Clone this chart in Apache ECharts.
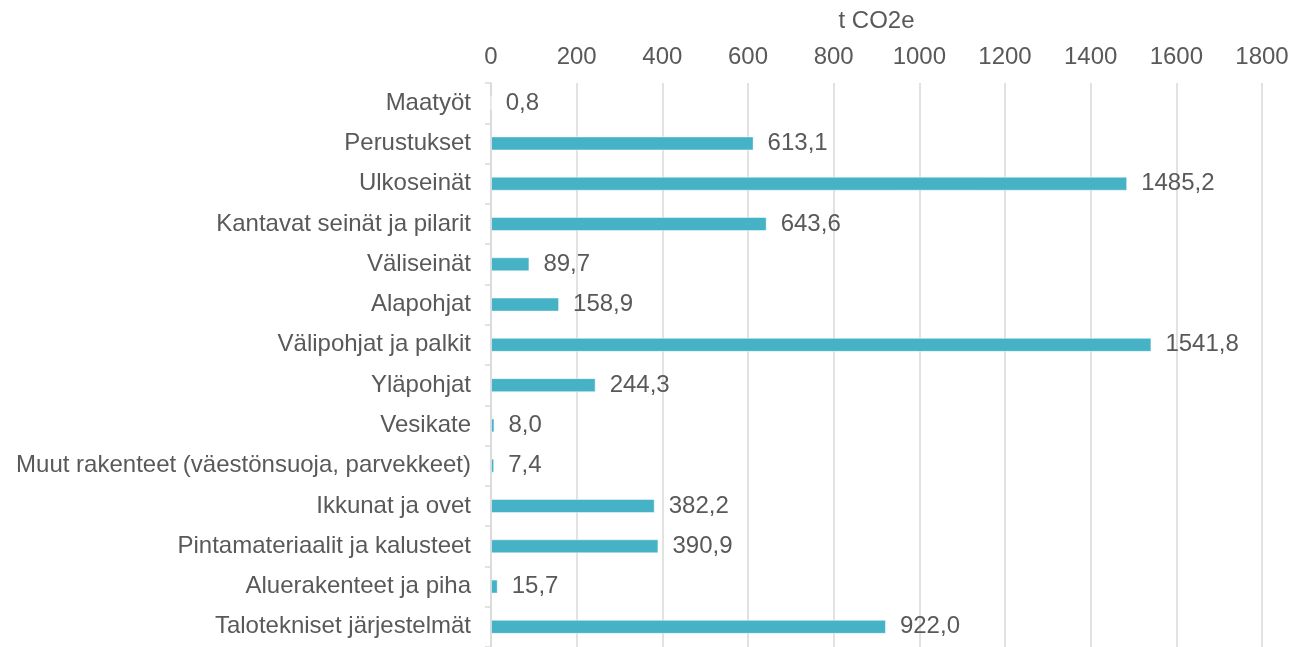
<!DOCTYPE html>
<html>
<head>
<meta charset="utf-8">
<script src="https://cdn.jsdelivr.net/npm/echarts@6/dist/echarts.min.js"></script>
<style>
  html, body { margin: 0; padding: 0; background: #ffffff; }
  #chart { width: 1304px; height: 647px; }
</style>
</head>
<body>
<div id="chart"></div>
<script>
// Carbon footprint by building element (t CO2e)
const categories = [
  'Maatyöt',
  'Perustukset',
  'Ulkoseinät',
  'Kantavat seinät ja pilarit',
  'Väliseinät',
  'Alapohjat',
  'Välipohjat ja palkit',
  'Yläpohjat',
  'Vesikate',
  'Muut rakenteet (väestönsuoja, parvekkeet)',
  'Ikkunat ja ovet',
  'Pintamateriaalit ja kalusteet',
  'Aluerakenteet ja piha',
  'Talotekniset järjestelmät'
];
const emissions = [0.8, 613.1, 1485.2, 643.6, 89.7, 158.9, 1541.8, 244.3, 8.0, 7.4, 382.2, 390.9, 15.7, 922.0];
const axisMin = 0;
const axisMax = 1800;
const axisStep = 200;
const axisTitle = 't CO2e';

const textColor = '#595959';
const gridColor = '#d9d9d9';
const barColor = '#45b2c6';
const fontFamily = 'Liberation Sans';
const fontSize = 24;

const fmt = v => v.toFixed(1).replace('.', ',');

const chart = echarts.init(document.getElementById('chart'));
chart.setOption({
  animation: false,
  textStyle: { fontFamily: fontFamily, color: textColor },
  grid: { left: 491, top: 83, width: 771, height: 567, containLabel: false },
  xAxis: {
    type: 'value',
    position: 'top',
    min: axisMin,
    max: axisMax,
    interval: axisStep,
    name: axisTitle,
    nameLocation: 'middle',
    nameGap: 50,
    nameTextStyle: { fontSize: fontSize, color: textColor, fontFamily: fontFamily },
    axisLine: { show: false },
    axisTick: { show: false },
    axisLabel: {
      fontSize: fontSize, color: textColor, fontFamily: fontFamily, margin: 14,
      formatter: v => String(v)
    },
    splitLine: { show: true, lineStyle: { color: gridColor, width: 1.5 } }
  },
  yAxis: {
    type: 'category',
    inverse: true,
    data: categories,
    axisLine: { show: true, lineStyle: { color: gridColor, width: 1.5 } },
    axisTick: { show: true, length: 6, lineStyle: { color: gridColor, width: 1.5 } },
    axisLabel: { fontSize: fontSize, color: textColor, fontFamily: fontFamily, margin: 20 }
  },
  series: [{
    type: 'bar',
    data: emissions,
    barWidth: 14,
    itemStyle: { color: barColor, borderColor: 'rgba(255,255,255,0.45)', borderWidth: 1 },
    label: {
      show: true,
      position: 'right',
      distance: 14,
      fontSize: fontSize,
      color: textColor,
      fontFamily: fontFamily,
      formatter: p => fmt(p.value)
    }
  }]
});
</script>
</body>
</html>
